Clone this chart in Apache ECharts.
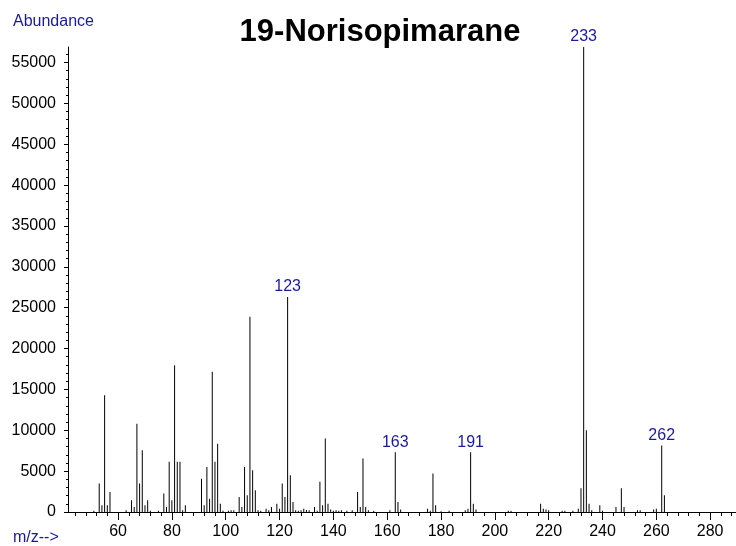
<!DOCTYPE html>
<html>
<head>
<meta charset="utf-8">
<script src="https://cdn.jsdelivr.net/npm/echarts@6/dist/echarts.min.js"></script>
<style>
  html, body { margin: 0; padding: 0; background: #fff; }
  #chart { width: 736px; height: 546px; }
</style>
</head>
<body>
<div id="chart"></div>
<script>
// Mass spectrum of 19-Norisopimarane: m/z and abundance of each ion
const mz = [51, 53, 54, 55, 56, 57, 63, 65, 66, 67, 68, 69, 70, 71, 72, 75, 77, 78, 79, 80,
  81, 82, 83, 84, 85, 91, 92, 93, 94, 95, 96, 97, 98, 99, 101, 102, 103, 105, 106, 107,
  108, 109, 110, 111, 112, 113, 115, 116, 117, 119, 120, 121, 122, 123, 124, 125, 126, 127, 128, 129,
  130, 131, 133, 134, 135, 136, 137, 138, 139, 140, 141, 142, 143, 145, 147, 149, 150, 151, 152, 153,
  155, 161, 163, 164, 165, 175, 176, 177, 178, 180, 183, 189, 190, 191, 192, 193, 205, 206, 217, 218,
  219, 220, 225, 226, 229, 231, 232, 233, 234, 235, 236, 239, 240, 245, 247, 248, 253, 254, 259, 260,
  262, 263];
const abundance = [150, 3500, 820, 14300, 820, 2450, 200, 1430, 610, 10800, 3500, 7550, 820, 1430, 150, 150, 2250, 610, 6150, 1430,
  17950, 6150, 6150, 200, 820, 4080, 820, 5500, 1630, 17150, 6150, 8350, 1020, 150, 150, 200, 200, 1840, 610, 5500,
  2040, 23900, 5100, 2650, 200, 150, 400, 200, 610, 1020, 400, 3500, 1840, 26300, 4500, 1230, 200, 150, 200, 400,
  250, 200, 610, 150, 3700, 820, 9000, 1020, 300, 150, 200, 150, 200, 150, 200, 2450, 610, 6550, 610, 200,
  150, 200, 7300, 1230, 300, 400, 150, 4700, 820, 100, 150, 200, 400, 7300, 1020, 300, 150, 150, 1020, 400,
  300, 200, 150, 150, 150, 400, 2900, 56900, 10000, 1020, 200, 820, 150, 610, 2900, 610, 200, 200, 300, 400,
  8150, 2050];
// Ions whose m/z is printed above the line
const labeledPeaks = [123, 163, 191, 233, 262];
// Axis tick values
const xTickLabels = [60, 80, 100, 120, 140, 160, 180, 200, 220, 240, 260, 280];
const xMinorTicks = [];
for (let v = 44; v <= 288; v += 4) if (v % 20 !== 0) xMinorTicks.push(v);
const yTickLabels = [0, 5000, 10000, 15000, 20000, 25000, 30000, 35000, 40000, 45000, 50000, 55000];
const yMinorTicks = [];
for (let v = 1000; v <= 56000; v += 1000) if (v % 5000 !== 0) yMinorTicks.push(v);

const X_MIN = 41.4, X_MAX = 289.6, Y_MAX = 56900;
const BLUE = '#1a1a9a';
const FONT = 'Liberation Sans, Arial, Helvetica, sans-serif';

const peakData = mz.map((m, i) => {
  const item = { value: [m, abundance[i]] };
  if (labeledPeaks.includes(m)) {
    item.label = {
      show: true, position: 'top', distance: 2,
      formatter: String(m), color: BLUE, fontSize: 16, fontFamily: FONT
    };
  }
  return item;
});

const chart = echarts.init(document.getElementById('chart'), null, { renderer: 'canvas' });
chart.setOption({
  animation: false,
  backgroundColor: '#fff',
  grid: { left: 68, right: 0, top: 47, bottom: 34, containLabel: false },
  xAxis: [
    {
      type: 'value', min: X_MIN, max: X_MAX, position: 'bottom',
      axisLine: { show: true, lineStyle: { color: '#000', width: 1 } },
      axisTick: { show: true, customValues: xTickLabels, length: 8, inside: false, lineStyle: { color: '#000' } },
      axisLabel: { customValues: xTickLabels, color: '#000', fontSize: 16, fontFamily: FONT, margin: 12 },
      splitLine: { show: false }
    },
    {
      type: 'value', min: X_MIN, max: X_MAX, position: 'bottom',
      axisLine: { show: false },
      axisTick: { show: true, customValues: xMinorTicks, length: 4, lineStyle: { color: '#000' } },
      axisLabel: { show: false },
      splitLine: { show: false }
    }
  ],
  yAxis: [
    {
      type: 'value', min: 0, max: Y_MAX, position: 'left',
      axisLine: { show: true, lineStyle: { color: '#000', width: 1 } },
      axisTick: { show: true, customValues: yTickLabels, length: 4, lineStyle: { color: '#000' } },
      axisLabel: {
        customValues: yTickLabels, color: '#000', fontSize: 16, fontFamily: FONT, margin: 12,
        formatter: (v) => String(v)
      },
      splitLine: { show: false }
    },
    {
      type: 'value', min: 0, max: Y_MAX, position: 'left',
      axisLine: { show: false },
      axisTick: { show: true, customValues: yMinorTicks, length: 2, lineStyle: { color: '#000' } },
      axisLabel: { show: false },
      splitLine: { show: false }
    }
  ],
  series: [{
    type: 'bar',
    xAxisIndex: 0, yAxisIndex: 0,
    barWidth: 1,
    itemStyle: { color: '#000' },
    data: peakData,
    silent: true
  }],
  graphic: [
    { type: 'text', left: 13, top: 14, style: { text: 'Abundance', fill: BLUE, font: '16px ' + FONT } },
    { type: 'text', left: 13, top: 530, style: { text: 'm/z-->', fill: BLUE, font: '16px ' + FONT } },
    { type: 'text', x: 380, y: 32, style: { text: '19-Norisopimarane', fill: '#000', font: 'bold 31px ' + FONT, align: 'center', verticalAlign: 'middle' } }
  ]
});
</script>
</body>
</html>
